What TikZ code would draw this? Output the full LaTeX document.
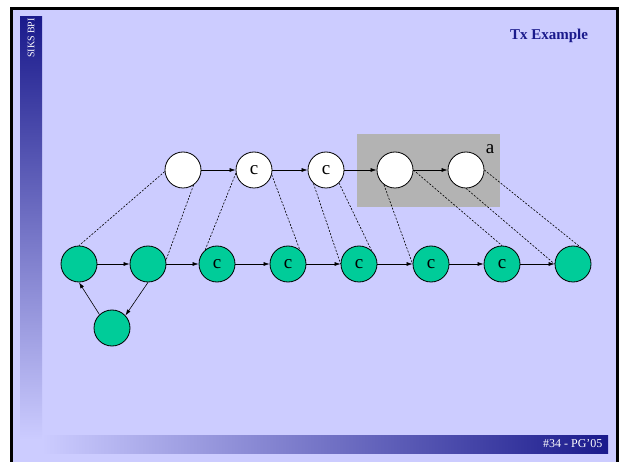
\documentclass[tikz,border=0pt]{standalone}
\usepackage{fontspec}
\setmainfont{Liberation Serif}
\usepackage{tikz}
\usepackage{xcolor}
\usetikzlibrary{
    arrows.meta,
    positioning
}
\definecolor{slidebg}{RGB}{204,204,255}
\definecolor{navy}{RGB}{26,26,140}
\definecolor{statgreen}{RGB}{0,204,153}
\definecolor{boxgray}{RGB}{179,179,179}

\begin{document}
\begin{tikzpicture}[x=1pt, y=-1pt,
        >={Latex[length=6pt,width=4pt]},
        state/.style={circle, draw, line width=0.8pt, minimum size=36pt, inner sep=0pt,
            font=\fontsize{19}{22}\selectfont},
        txstate/.style={state, fill=white},
        runstate/.style={state, fill=statgreen},
        link/.style={line width=0.6pt, ->},
        map/.style={line width=0.6pt, dash pattern=on 2pt off 1.5pt}]
                        \useasboundingbox (0, 0) rectangle (621, 462);
                        \fill[white] (0, 0) rectangle (621, 462);
                        \fill[slidebg] (12, 9) rectangle (617, 462);
                        \draw[line width=3pt] (11.5, 462) -- (11.5, 8.5) -- (617, 8.5) -- (617, 462);
                        \shade[top color=navy, bottom color=slidebg, middle color=navy!50!slidebg] (20, 17) rectangle (42, 440);
                        \shade[left color=slidebg, right color=navy] (42, 435) rectangle (608, 453);
                        \node[white, rotate=90, font=\fontsize{10}{12}\selectfont] (brand) at (31, 38) {SIKS BPI};
                        \node[white, anchor=east, font=\fontsize{12}{14}\selectfont] (pageno) at (606, 444) {\#34 - PG'05};
                        \node[navy, font=\fontsize{15}{18}\selectfont\bfseries] (title) at (549, 36) {Tx Example};

                        % transaction
                        \fill[boxgray] (357, 134) rectangle (500, 207);
                        \node[txstate] (t1) at (183, 170) {};
                        \node[txstate] (t2) at (254, 170) {c};
                        \node[txstate] (t3) at (326, 170) {c};
                        \node[txstate] (t4) at (395, 170) {};
                        \node[txstate] (t5) at (466, 170) {};
                        \node[font=\fontsize{19}{22}\selectfont] (lbla) at (490, 149) {a};

                        % run
                        \node[runstate] (g1) at (79, 264) {};
                        \node[runstate] (g2) at (148, 264) {};
                        \node[runstate] (g3) at (217, 264) {c};
                        \node[runstate] (g4) at (288, 264) {c};
                        \node[runstate] (g5) at (359, 264) {c};
                        \node[runstate] (g6) at (431, 264) {c};
                        \node[runstate] (g7) at (502, 264) {c};
                        \node[runstate] (g8) at (573, 264) {};
                        \node[runstate] (g9) at (112, 328) {};

                        \draw
                        (t1) edge[link] (t2)
                        (t2) edge[link] (t3)
                        (t3) edge[link] (t4)
                        (t4) edge[link] (t5)
                        (g1) edge[link] (g2)
                        (g2) edge[link] (g3)
                        (g3) edge[link] (g4)
                        (g4) edge[link] (g5)
                        (g5) edge[link] (g6)
                        (g6) edge[link] (g7)
                        (g7) edge[link] (g8)
                        (g2.south) edge[link] (g9.43)
                        (g9.133) edge[link] (g1.south);

                        \draw
                        (t1.185) edge[map] (g1.north)
                        (t1.-55) edge[map] (g2.12)
                        (t2.190) edge[map] (g3.130)
                        (t2.-15) edge[map] (g4.50)
                        (t3.227) edge[map] (g5.west)
                        (t3.-45) edge[map] (g5.47)
                        (t4.233) edge[map] (g6.west)
                        (t4.east) edge[map] (g7.north)
                        (t5.south) edge[map] (g8.west)
                        (t5.east) edge[map] (g8.66);
                    \end{tikzpicture}
\end{document}
